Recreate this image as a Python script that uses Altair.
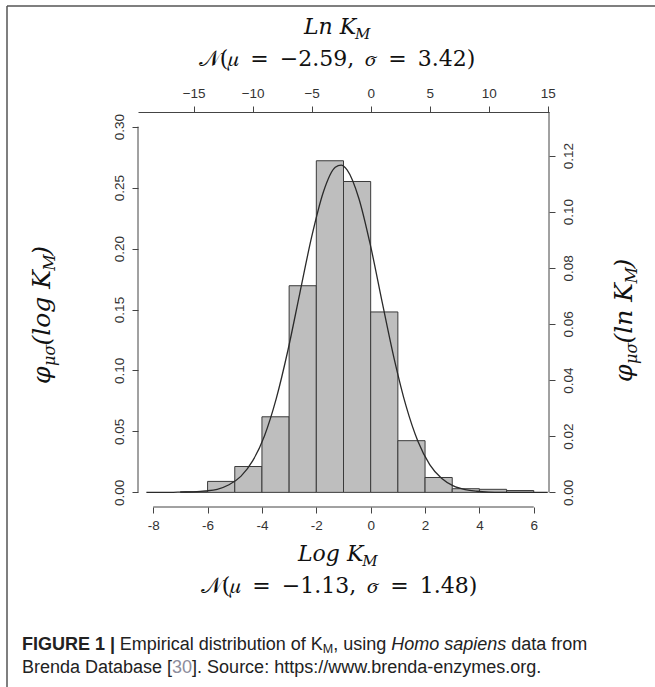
import math
import altair as alt
import pandas as pd

# ---------------- data ----------------
# histogram of log10(KM), bin width 1 (density, left axis)
bin_left = [-7, -6, -5, -4, -3, -2, -1, 0, 1, 2, 3, 4, 5]
bin_density = [0.0005, 0.009, 0.0212, 0.062, 0.1695, 0.272, 0.255, 0.148,
               0.0424, 0.0122, 0.003, 0.0025, 0.0015]

# fitted normal curve on the ln scale (top / right axes)
curve_ln_x = [-19, -18, -17, -16, -15, -14, -13, -12, -11, -10, -9, -8, -7, -6,
              -5, -4, -3, -2.5, -2, -1, 0, 1, 2, 3, 4, 5, 6, 7, 8, 9, 10, 11,
              12, 13, 14, 15]
curve_ln_y = [0.0000, 0.0000, 0.0000, 0.0001, 0.0002, 0.0005, 0.0011, 0.0027,
              0.0057, 0.0112, 0.0201, 0.0334, 0.0508, 0.0710, 0.0910, 0.1071,
              0.1158, 0.1166, 0.1149, 0.1047, 0.0876, 0.0672, 0.0474, 0.0307,
              0.0182, 0.0099, 0.0050, 0.0023, 0.0010, 0.0004, 0.0001, 0.0000,
              0.0000, 0.0000, 0.0000, 0.0000]

bottom_ticks = [-8, -6, -4, -2, 0, 2, 4, 6]
top_ticks = [-15, -10, -5, 0, 5, 10, 15]
left_ticks = [0.0, 0.05, 0.10, 0.15, 0.20, 0.25, 0.30]
right_ticks = [0.0, 0.02, 0.04, 0.06, 0.08, 0.10, 0.12]

# ---------------- layout ----------------
LN10 = math.log(10)
W, H = 411, 395
X_LOG = [-8.56, 6.56]
X_LN = [X_LOG[0] * LN10, X_LOG[1] * LN10]
Y_L = [-0.012, 0.312]
Y_R = [Y_L[0] / LN10, Y_L[1] / LN10]
OX, OY = 138, 112          # plot origin in the page
PAGE_W, PAGE_H = 655, 687

AXC = "#444"
LABC = "#333"
lab = dict(labelFont="Liberation Sans", labelFontSize=13.5, labelColor=LABC,
           tickColor=AXC, tickSize=6, tickWidth=1, grid=False, title=None)

one = pd.DataFrame({"a": [0]})

hist_df = pd.DataFrame({"x0": bin_left, "x1": [b + 1 for b in bin_left],
                        "d": bin_density})
curve_df = pd.DataFrame({"lx": curve_ln_x, "ly": curve_ln_y})

bars = alt.Chart(hist_df).mark_rect(fill="#bebebe", stroke="#3a3a3a",
                                    strokeWidth=1).encode(
    x=alt.X("x0:Q", scale=alt.Scale(domain=X_LOG, nice=False, zero=False),
            axis=alt.Axis(orient="bottom", values=bottom_ticks, domain=False,
                          labelExpr="datum.value < 0 ? '-' + abs(datum.value) : '' + datum.value",
                          labelPadding=5, **lab)),
    x2="x1:Q",
    y=alt.Y("d:Q", scale=alt.Scale(domain=Y_L, nice=False, zero=False),
            axis=alt.Axis(orient="left", values=left_ticks, format=".2f",
                          domain=False, labelAngle=270, labelPadding=6, **lab)),
    y2=alt.datum(0),
)

left_line = alt.Chart(one).mark_rule(color=AXC, strokeWidth=1).encode(
    x=alt.value(0), y=alt.datum(left_ticks[-1]), y2=alt.datum(left_ticks[0]))
bottom_line = alt.Chart(one).mark_rule(color=AXC, strokeWidth=1).encode(
    x=alt.datum(bottom_ticks[0]), x2=alt.datum(bottom_ticks[-1]), y=alt.value(H))

# ---------------- text helpers ----------------
AR = {' ': 278, ',': 278, '-': 333, '.': 278, '/': 278, ':': 278, '[': 278,
      ']': 278, '|': 260}
for c in "0123456789":
    AR[c] = 556
AR.update(dict(zip("ABCDEFGHIJKLMNOPQRSTUVWXYZ",
                   [667, 667, 722, 722, 667, 611, 778, 722, 278, 500, 667, 556, 833,
                    722, 778, 667, 778, 722, 667, 611, 722, 667, 944, 667, 667, 611])))
AR.update(dict(zip("abcdefghijklmnopqrstuvwxyz",
                   [556, 556, 500, 556, 556, 278, 556, 556, 222, 222, 500, 222, 833,
                    556, 556, 556, 556, 333, 500, 278, 556, 500, 722, 500, 500, 500])))


def aw(s):
    return sum(AR.get(c, 556) for c in s) / 1000.0


DS = {' ': 318, 'L': 637, 'n': 644, 'K': 724, 'M': 941, 'o': 602, 'g': 635,
      'l': 320, '(': 390, ')': 390, 'φ': 720, 'μ': 660, 'σ': 620}


def dw(s):
    return sum(DS.get(c, 620) for c in s) / 1000.0


def piece(text, x, y, size, dx=0, dy=0, angle=0, font="DejaVu Serif",
          style="normal", weight="normal", color="#111", align="left"):
    return alt.Chart(one).mark_text(
        text=text, font=font, fontSize=size, fontStyle=style, fontWeight=weight,
        color=color, align=align, baseline="alphabetic", angle=angle,
        dx=dx, dy=dy).encode(x=alt.value(x), y=alt.value(y))


def run(parts, x, y, angle=0, font="DejaVu Serif", wfun=dw):
    """parts: (text, size, dy, style, weight, color, extra_gap_em)"""
    out, cur = [], 0.0
    for text, size, dy, style, weight, color, gap in parts:
        cur += gap * size
        out.append(piece(text, x, y, size, dx=cur, dy=dy, angle=angle,
                         font=font, style=style, weight=weight, color=color))
        cur += wfun(text) * size
    return out


TS = 22   # math title size
SS = 15   # subscript size
EN = "\u2002"
NS = 22   # size of the normal-distribution lines
texts = []
# top axis title
texts += run([("Ln K", TS, 0, "italic", "normal", "#111", 0),
              ("M", SS, 5, "italic", "normal", "#111", 0)], 304 - OX, 34 - OY)
texts.append(piece("𝒩(𝜇" + EN + "=" + EN + "−2.59," + EN + "𝜎" + EN + "=" + EN + "3.42)",
                   337 - OX, 66 - OY, NS, align="center"))
# bottom axis title
texts += run([("Log K", TS, 0, "italic", "normal", "#111", 0),
              ("M", SS, 5, "italic", "normal", "#111", 0)], 298 - OX, 561 - OY)
texts.append(piece("𝒩(𝜇" + EN + "=" + EN + "−1.13," + EN + "𝜎" + EN + "=" + EN + "1.48)",
                   339 - OX, 593 - OY, NS, align="center"))
# left / right titles (rotated, reading upwards)
YT = 25
YS = 16
texts += run([("φ", YT, 0, "italic", "normal", "#111", 0),
              ("μσ", YS, 5, "italic", "normal", "#111", 0),
              ("(log K", YT, 0, "italic", "normal", "#111", 0),
              ("M", YS, 5, "italic", "normal", "#111", 0),
              (")", YT, 0, "italic", "normal", "#111", 0)],
             50 - OX, 384 - OY, angle=270)
texts += run([("φ", YT, 0, "italic", "normal", "#111", 0),
              ("μσ", YS, 5, "italic", "normal", "#111", 0),
              ("(ln K", YT, 0, "italic", "normal", "#111", 0),
              ("M", YS, 5, "italic", "normal", "#111", 0),
              (")", YT, 0, "italic", "normal", "#111", 0)],
             632 - OX, 382 - OY, angle=270)

# caption
CS = 18
CF = "Liberation Sans"
CC = "#222"
texts += run([("FIGURE 1 |", CS, 0, "normal", "bold", CC, 0),
              ("Empirical distribution of K", CS, 0, "normal", "normal", CC, 0.278),
              ("M", 12.5, 3, "normal", "normal", CC, 0),
              (", using", CS, 0, "normal", "normal", CC, 0),
              ("Homo sapiens", CS, 0, "italic", "normal", CC, 0.278),
              ("data from", CS, 0, "normal", "normal", CC, 0.278)],
             22 - OX, 650 - OY, font=CF, wfun=aw)
texts += run([("Brenda Database [", CS, 0, "normal", "normal", CC, 0),
              ("30", CS, 0, "normal", "normal", "#8c8c9c", 0),
              ("]. Source: https://www.brenda-enzymes.org.", CS, 0, "normal", "normal", CC, 0)],
             22 - OX, 673 - OY, font=CF, wfun=aw)

# figure frame (top and left border)
frame_top = alt.Chart(one).mark_rule(color="#555", strokeWidth=1.5).encode(
    x=alt.value(7 - OX), x2=alt.value(PAGE_W - OX), y=alt.value(6 - OY))
frame_left = alt.Chart(one).mark_rule(color="#555", strokeWidth=1.5).encode(
    x=alt.value(7 - OX), y=alt.value(6 - OY), y2=alt.value(PAGE_H - OY))

curve = alt.Chart(curve_df).mark_line(color="#2a2a2a", strokeWidth=1.3,
                                      interpolate="monotone").encode(
    x=alt.X("lx:Q", scale=alt.Scale(domain=X_LN, nice=False, zero=False),
            axis=alt.Axis(orient="top", values=top_ticks, domain=True,
                          domainColor=AXC, labelPadding=6, **lab)),
    y=alt.Y("ly:Q", scale=alt.Scale(domain=Y_R, nice=False, zero=False),
            axis=alt.Axis(orient="right", values=right_ticks, format=".2f",
                          domain=False, labelAngle=270, labelPadding=6, **lab)),
)
right_line = alt.Chart(one).mark_rule(color=AXC, strokeWidth=1).encode(
    x=alt.value(W), y=alt.datum(Y_R[1]), y2=alt.datum(0))

layer_log = alt.layer(bars, left_line, bottom_line, frame_top, frame_left, *texts)
layer_ln = alt.layer(curve, right_line)

chart = alt.layer(layer_log, layer_ln).resolve_scale(
    x="independent", y="independent"
).properties(
    width=W, height=H,
    padding={"left": OX, "top": OY, "right": PAGE_W - OX - W, "bottom": PAGE_H - OY - H},
    autosize=alt.AutoSizeParams(type="none"),
    background="white",
).configure_view(stroke=None)

chart.save("out.html", embed_options={"renderer": "svg", "actions": False})
